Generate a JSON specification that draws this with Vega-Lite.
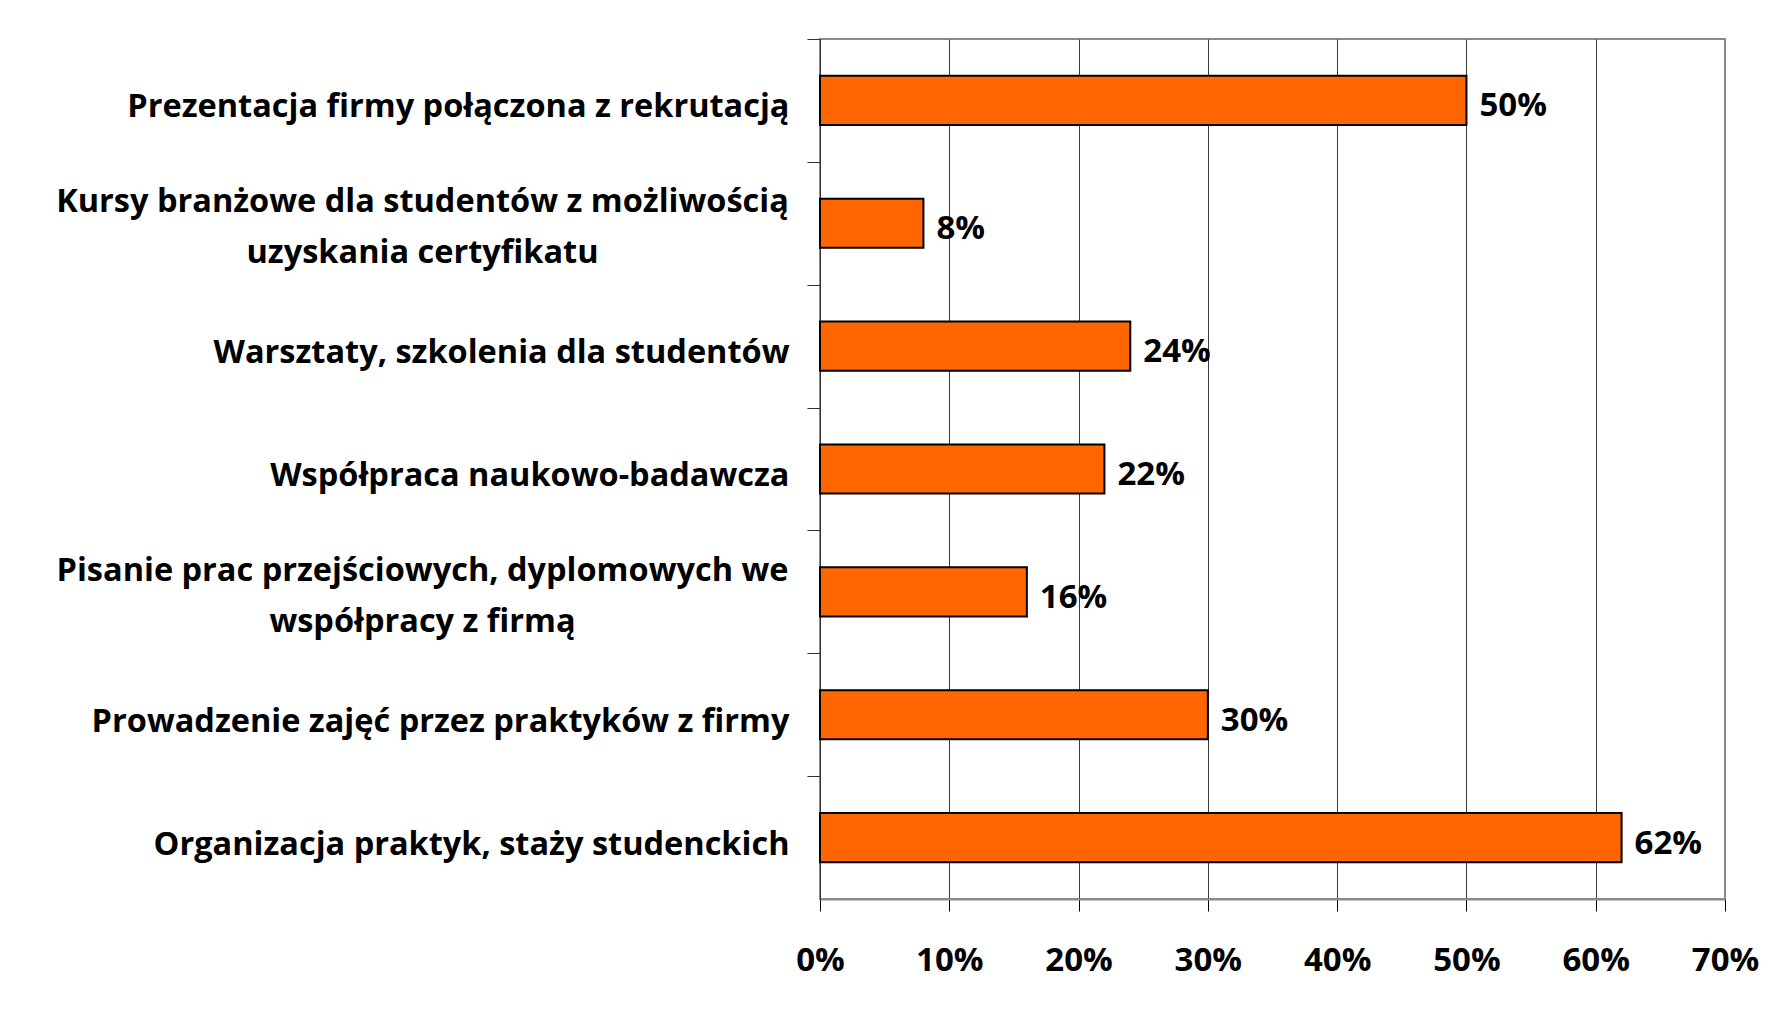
{
  "$schema": "https://vega.github.io/schema/vega-lite/v6.json",
  "autosize": "none",
  "padding": {"left": 820, "top": 39, "right": 51, "bottom": 118},
  "width": 905,
  "height": 860,
  "background": "white",
  "config": {"view": {"stroke": "#8a8a8a", "strokeWidth": 2}},
  "data": {"values": [
    {"category": "Prezentacja firmy połączona z rekrutacją", "value": 0.50},
    {"category": "Kursy branżowe dla studentów z możliwością uzyskania certyfikatu", "value": 0.08},
    {"category": "Warsztaty, szkolenia dla studentów", "value": 0.24},
    {"category": "Współpraca naukowo-badawcza", "value": 0.22},
    {"category": "Pisanie prac przejściowych, dyplomowych we współpracy z firmą", "value": 0.16},
    {"category": "Prowadzenie zajęć przez praktyków z firmy", "value": 0.30},
    {"category": "Organizacja praktyk, staży studenckich", "value": 0.62}
  ]},
  "encoding": {
    "y": {
      "field": "category", "type": "nominal", "sort": null,
      "scale": {"paddingInner": 0.6, "paddingOuter": 0.3},
      "axis": {
        "title": null, "tickOffset": -61.45,
        "tickSize": 13, "tickColor": "#333333", "domainColor": "#333333", "domainWidth": 1,
        "grid": false,
        "labelFont": "Open Sans", "labelFontWeight": "bold", "labelFontSize": 32.5, "labelColor": "#000000",
        "labelLimit": 900, "labelOverlap": false, "labelLineHeight": 51,
        "labelAlign": {"condition": {"test": "length(datum.value) > 50", "value": "center"}, "value": "right"},
        "labelPadding": {"condition": {"test": "length(datum.value) > 50", "value": 385}, "value": 18},
        "labelOffset": {"condition": {"test": "length(datum.value) > 50", "value": 40}, "value": 68},
        "labelExpr": "datum.value == 'Kursy branżowe dla studentów z możliwością uzyskania certyfikatu' ? ['Kursy branżowe dla studentów z możliwością', 'uzyskania certyfikatu'] : datum.value == 'Pisanie prac przejściowych, dyplomowych we współpracy z firmą' ? ['Pisanie prac przejściowych, dyplomowych we', 'współpracy z firmą'] : datum.value"
      }
    },
    "x": {
      "field": "value", "type": "quantitative",
      "scale": {"domain": [0, 0.7], "nice": false},
      "axis": {
        "title": null, "format": ".0%", "values": [0, 0.1, 0.2, 0.3, 0.4, 0.5, 0.6, 0.7],
        "grid": true, "gridWidth": 1,
        "gridColor": {"condition": {"test": "datum.value > 0.65", "value": "#8a8a8a"}, "value": "#3a3a3a"},
        "domainColor": "#8a8a8a", "domainWidth": 2,
        "tickColor": "#000000", "tickSize": 12, "tickWidth": 1,
        "labelFont": "Open Sans", "labelFontWeight": "bold", "labelFontSize": 33, "labelColor": "#000000",
        "labelPadding": 33, "labelFlush": false, "labelBound": false, "labelOverlap": false
      }
    }
  },
  "layer": [
    {"mark": {"type": "bar", "fill": "#FF6600", "stroke": "#000000", "strokeWidth": 2}},
    {
      "mark": {"type": "text", "align": "left", "baseline": "middle", "dx": 13, "dy": 6, "font": "Open Sans", "fontWeight": "bold", "fontSize": 33, "color": "#000000"},
      "encoding": {"text": {"field": "value", "type": "quantitative", "format": ".0%"}}
    }
  ]
}
